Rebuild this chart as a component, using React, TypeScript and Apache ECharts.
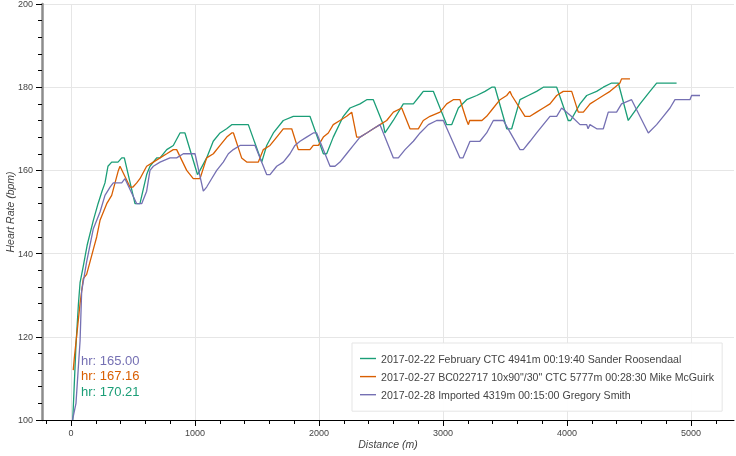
import React, { useEffect, useRef } from 'react';
import * as echarts from 'echarts';

const seriesNames = [
  '2017-02-22 February CTC 4941m 00:19:40 Sander Roosendaal',
  '2017-02-27 BC022717 10x90"/30" CTC 5777m 00:28:30 Mike McGuirk',
  '2017-02-28 Imported 4319m 00:15:00 Gregory Smith',
];
const seriesColors = ['#1b9e77', '#d95f02', '#7570b3'];

// [distance (m), heart rate (bpm)]
const greenData = [
  [14, 100], [40, 118], [60, 128], [73, 133], [99, 137], [130, 142], [180, 148], [218, 152], [250, 155],
  [274, 157], [298, 161], [328, 162], [379, 162], [409, 163], [430, 163], [516, 152], [556, 152],
  [610, 159], [637, 161], [691, 163], [718, 163], [772, 165], [825, 166], [879, 169], [919, 169],
  [1020, 159], [1040, 160], [1094, 163], [1147, 167], [1202, 169], [1255, 170], [1296, 171], [1430, 171],
  [1538, 162], [1578, 166], [1632, 169], [1712, 172], [1793, 173], [1820, 173], [1927, 173],
  [2035, 164], [2062, 164], [2115, 168], [2196, 173], [2250, 175], [2331, 176], [2385, 177], [2438, 177],
  [2519, 171], [2532, 169], [2599, 172], [2680, 176], [2761, 176], [2815, 178], [2841, 179], [2922, 179],
  [3030, 171], [3070, 171], [3124, 175], [3191, 177], [3272, 178], [3339, 179], [3393, 180], [3419, 180],
  [3514, 170], [3554, 170], [3621, 177], [3688, 178], [3755, 179], [3809, 180], [3917, 180],
  [4010, 172], [4030, 172], [4105, 176], [4159, 178], [4239, 179], [4293, 180], [4360, 181], [4414, 181],
  [4494, 172], [4589, 176], [4669, 179], [4723, 181], [4884, 181],
];

const orangeData = [
  [18, 112], [27, 115], [73, 128], [99, 134], [126, 135], [153, 138], [180, 141], [207, 144], [234, 148],
  [288, 152], [328, 154], [355, 157], [382, 160], [395, 161], [476, 156], [500, 156], [530, 157],
  [556, 158], [610, 161], [664, 162], [718, 163], [772, 164], [825, 165], [852, 165], [933, 160],
  [986, 158], [1040, 158], [1094, 163], [1148, 164], [1202, 166], [1256, 168], [1296, 169], [1310, 169],
  [1376, 163], [1417, 162], [1511, 162], [1551, 165], [1605, 166], [1659, 168], [1712, 170], [1780, 170],
  [1833, 165], [1927, 165], [1954, 166], [1995, 166], [2035, 168], [2075, 169], [2115, 171], [2169, 172],
  [2223, 173], [2264, 174], [2304, 168], [2331, 168], [2385, 169], [2438, 170], [2492, 171], [2546, 172],
  [2600, 174], [2667, 175], [2734, 170], [2801, 170], [2841, 172], [2895, 173], [2976, 174], [3030, 176],
  [3083, 177], [3137, 177], [3191, 172], [3205, 171], [3215, 172], [3314, 172], [3352, 173], [3406, 175],
  [3460, 177], [3514, 178], [3540, 179], [3555, 178], [3661, 173], [3702, 173], [3755, 174], [3809, 175],
  [3863, 176], [3917, 178], [3970, 179], [4038, 179], [4091, 174], [4132, 174], [4186, 176], [4239, 177],
  [4293, 178], [4347, 179], [4387, 180], [4427, 181], [4440, 182], [4508, 182],
];

const purpleData = [
  [12, 100], [40, 104], [73, 119], [86, 131], [126, 138], [180, 146], [234, 150], [274, 154], [315, 156],
  [341, 157], [409, 157], [435, 158], [530, 152], [570, 152], [610, 155], [637, 160], [664, 161],
  [718, 162], [798, 163], [852, 163], [906, 164], [1000, 164], [1067, 155], [1094, 156], [1134, 158],
  [1175, 160], [1228, 162], [1269, 164], [1309, 165], [1363, 166], [1484, 166], [1578, 159], [1605, 159],
  [1659, 161], [1712, 162], [1766, 164], [1806, 166], [1847, 167], [1900, 168], [1954, 169], [1981, 169],
  [2089, 161], [2129, 161], [2169, 162], [2223, 164], [2277, 166], [2331, 168], [2385, 169], [2438, 170],
  [2492, 171], [2600, 163], [2640, 163], [2694, 165], [2761, 167], [2815, 169], [2882, 171], [2949, 172],
  [3003, 172], [3137, 163], [3161, 163], [3218, 167], [3298, 167], [3352, 169], [3406, 172], [3487, 172],
  [3621, 165], [3648, 165], [3702, 167], [3755, 169], [3809, 171], [3863, 173], [3917, 173], [3957, 175],
  [4035, 173], [4105, 171], [4159, 171], [4170, 170], [4185, 171], [4240, 170], [4293, 170], [4333, 174],
  [4400, 174], [4440, 176], [4521, 177], [4656, 169], [4723, 171], [4777, 173], [4831, 175], [4871, 177],
  [4992, 177], [5005, 178], [5073, 178],
];

const hrLabels = ['hr: 165.00', 'hr: 167.16', 'hr: 170.21'];
const hrLabelColors = ['#7570b3', '#d95f02', '#1b9e77'];

const xMajorTicks = [0, 1000, 2000, 3000, 4000, 5000];
const xMinorTicks = [-200, 200, 400, 600, 800, 1200, 1400, 1600, 1800, 2200, 2400, 2600, 2800,
  3200, 3400, 3600, 3800, 4200, 4400, 4600, 4800, 5200];
const xMin = -234;
const xMax = 5347;
const yMin = 100;
const yMax = 200;
const yStep = 20;

const FONT = '"Liberation Sans", Arial, Helvetica, sans-serif';

export default function App() {
  const ref = useRef<HTMLDivElement>(null);
  useEffect(() => {
    if (!ref.current) return;
    const chart = echarts.init(ref.current, null, { renderer: 'svg' });
    const datasets = [greenData, orangeData, purpleData];
    chart.setOption({
      animation: false,
      textStyle: { fontFamily: FONT },
      grid: { left: 42, top: 4, right: 2, bottom: 36, outerBoundsMode: 'none' },
      legend: {
        data: seriesNames,
        orient: 'vertical',
        left: 352,
        top: 343,
        padding: [10, 8, 11, 8],
        itemGap: 7.1,
        itemWidth: 16,
        itemHeight: 1.4,
        icon: 'rect',
        backgroundColor: 'rgba(255,255,255,0.95)',
        borderColor: '#e5e5e5',
        borderWidth: 1,
        borderRadius: 0,
        textStyle: { fontSize: 10.6, color: '#444', fontFamily: FONT },
      },
      xAxis: [
        {
          type: 'value',
          min: xMin,
          max: xMax,
          name: 'Distance (m)',
          nameLocation: 'middle',
          nameGap: 18,
          nameMoveOverlap: false,
          nameTextStyle: { fontStyle: 'italic', fontSize: 10.5, color: '#444', fontFamily: FONT },
          axisLine: { show: true, onZero: false, lineStyle: { color: '#000', width: 1 } },
          axisTick: { show: true, customValues: xMajorTicks, length: 6, lineStyle: { color: '#000' } },
          axisLabel: {
            customValues: xMajorTicks,
            margin: 8,
            fontSize: 9,
            color: '#444',
            fontFamily: FONT,
            formatter: (v: number) => String(v),
          },
          splitLine: { show: true, lineStyle: { color: '#e6e6e6', width: 1 } },
        },
        {
          type: 'value',
          min: xMin,
          max: xMax,
          position: 'bottom',
          axisLine: { show: false, onZero: false },
          axisLabel: { show: false },
          splitLine: { show: false },
          axisTick: { show: true, customValues: xMinorTicks, length: 4, lineStyle: { color: '#000' } },
        },
      ],
      yAxis: {
        type: 'value',
        min: yMin,
        max: yMax,
        interval: yStep,
        name: 'Heart Rate (bpm)',
        nameLocation: 'middle',
        nameGap: 27,
        nameMoveOverlap: false,
        nameTextStyle: { fontStyle: 'italic', fontSize: 10.5, color: '#444', fontFamily: FONT },
        axisLine: { show: true, onZero: false, lineStyle: { color: '#8c8c8c', width: 2.5 } },
        axisTick: { show: true, length: 6, lineStyle: { color: '#000' } },
        minorTick: { show: true, splitNumber: 5, length: 4, lineStyle: { color: '#000' } },
        axisLabel: { margin: 9, fontSize: 9, color: '#444', fontFamily: FONT },
        splitLine: { show: true, lineStyle: { color: '#e6e6e6', width: 1 } },
      },
      graphic: hrLabels.map((t, i) => ({
        type: 'text',
        x: 81,
        y: 360 + i * 15.8,
        style: { text: t, fill: hrLabelColors[i], fontSize: 13, fontFamily: FONT, verticalAlign: 'middle' },
      })),
      series: datasets.map((d, i) => ({
        name: seriesNames[i],
        type: 'line',
        xAxisIndex: 0,
        data: d,
        symbol: 'none',
        showSymbol: false,
        lineStyle: { color: seriesColors[i], width: 1.3 },
        itemStyle: { color: seriesColors[i] },
      })),
    });
    return () => chart.dispose();
  }, []);
  return <div ref={ref} style={{ position: 'fixed', left: 0, top: 0, width: 736, height: 456 }} />;
}
